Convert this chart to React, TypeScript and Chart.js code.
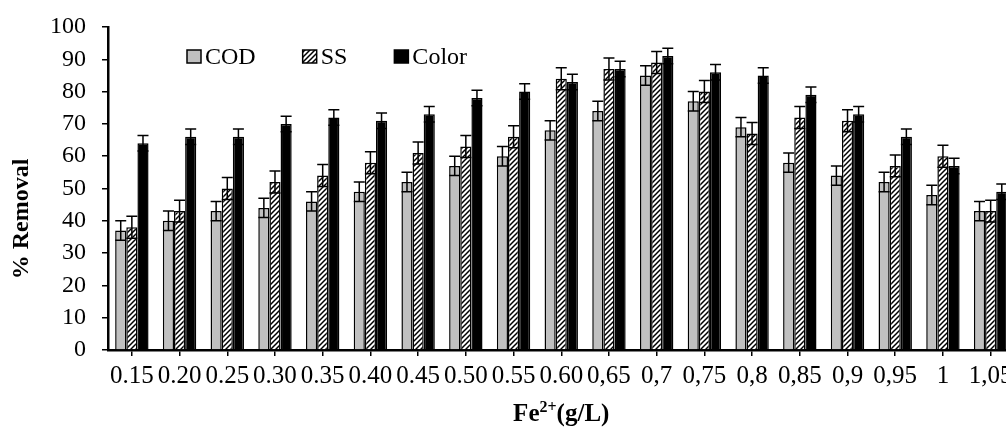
import React, { useEffect, useRef } from "react";
import { Chart, registerables } from "chart.js";

Chart.register(...registerables);

const categories = ["0.15", "0.20", "0.25", "0.30", "0.35", "0.40", "0.45", "0.50", "0.55", "0.60", "0,65", "0,7", "0,75", "0,8", "0,85", "0,9", "0,95", "1", "1,05"];
const codValues = [37, 40, 43, 44, 46, 49, 52, 57, 60, 68, 74, 85, 77, 69, 58, 54, 52, 48, 43];
const ssValues = [38, 43, 50, 52, 54, 58, 61, 63, 66, 84, 87, 89, 80, 67, 72, 71, 57, 60, 43];
const colorValues = [64, 66, 66, 70, 72, 71, 73, 78, 80, 83, 87, 91, 86, 85, 79, 73, 66, 57, 49];
const codErrors = [3, 3, 3, 3, 3, 3, 3, 3, 3, 3, 3, 3, 3, 3, 3, 3, 3, 3, 3];
const ssErrors = [3.4, 3.4, 3.4, 3.4, 3.4, 3.4, 3.4, 3.4, 3.4, 3.4, 3.4, 3.4, 3.4, 3.4, 3.4, 3.4, 3.4, 3.4, 3.4];
const colorErrors = [2.4, 2.4, 2.4, 2.4, 2.4, 2.4, 2.4, 2.4, 2.4, 2.4, 2.4, 2.4, 2.4, 2.4, 2.4, 2.4, 2.4, 2.4, 2.4];
const seriesNames = ["COD", "SS", "Color"];
const yAxisTitle = "% Removal";
const xAxisTitleMain = "Fe";
const xAxisTitleSup = "2+";
const xAxisTitleUnit = "(g/L)";

const SERIF = "'Liberation Serif', 'Times New Roman', serif";
const CANVAS_W = 1040;
const CANVAS_H = 428;

function makeHatch(): CanvasPattern | string {
  const c = document.createElement("canvas");
  c.width = 5;
  c.height = 5;
  const g = c.getContext("2d");
  if (!g) return "#888";
  g.fillStyle = "#fff";
  g.fillRect(0, 0, 5, 5);
  g.strokeStyle = "#000";
  g.lineWidth = 1.5;
  g.beginPath();
  g.moveTo(-1, 6);
  g.lineTo(6, -1);
  g.moveTo(-1, 1);
  g.lineTo(1, -1);
  g.moveTo(4, 6);
  g.lineTo(6, 4);
  g.stroke();
  const p = g.createPattern(c, "repeat");
  return p || "#888";
}

const errorSets = [codErrors, ssErrors, colorErrors];

const errorBarPlugin = {
  id: "errorBars",
  afterDatasetsDraw(chart: any) {
    const ctx = chart.ctx;
    const y = chart.scales.y;
    chart.data.datasets.forEach((ds: any, i: number) => {
      const meta = chart.getDatasetMeta(i);
      const errs = errorSets[i];
      meta.data.forEach((bar: any, j: number) => {
        const v = ds.data[j];
        const e = errs[j];
        const x = bar.x;
        const yt = y.getPixelForValue(v + e);
        const yb = y.getPixelForValue(v - e);
        ctx.save();
        ctx.strokeStyle = "#000";
        ctx.lineWidth = 1.5;
        ctx.beginPath();
        ctx.moveTo(x, yt);
        ctx.lineTo(x, yb);
        ctx.moveTo(x - 5.5, yt);
        ctx.lineTo(x + 5.5, yt);
        ctx.moveTo(x - 5.5, yb);
        ctx.lineTo(x + 5.5, yb);
        ctx.stroke();
        ctx.restore();
      });
    });
  },
};

const annotationPlugin = {
  id: "customLegendTitles",
  afterDraw(chart: any) {
    const ctx = chart.ctx;
    const area = chart.chartArea;
    ctx.save();
    // legend
    ctx.font = `24px ${SERIF}`;
    ctx.textBaseline = "alphabetic";
    ctx.textAlign = "left";
    let x = area.left + 79;
    const boxTop = 50;
    chart.data.datasets.forEach((ds: any) => {
      ctx.fillStyle = ds.backgroundColor;
      ctx.fillRect(x, boxTop, 14, 13);
      ctx.strokeStyle = "#000";
      ctx.lineWidth = 1.5;
      ctx.strokeRect(x, boxTop, 14, 13);
      ctx.fillStyle = "#000";
      ctx.fillText(ds.label, x + 18, 63.5);
      const w = ctx.measureText(ds.label).width;
      x = x + 18 + w + 47;
    });
    // y title
    ctx.save();
    ctx.translate(28, 219);
    ctx.rotate(-Math.PI / 2);
    ctx.font = `bold 24px ${SERIF}`;
    ctx.textAlign = "center";
    ctx.fillStyle = "#000";
    ctx.fillText(yAxisTitle, 0, 0);
    ctx.restore();
    // x title with superscript
    const big = `bold 25px ${SERIF}`;
    const small = `bold 16px ${SERIF}`;
    ctx.font = big;
    const w1 = ctx.measureText(xAxisTitleMain).width;
    const w3 = ctx.measureText(xAxisTitleUnit).width;
    ctx.font = small;
    const w2 = ctx.measureText(xAxisTitleSup).width;
    const total = w1 + w2 + w3;
    let tx = (area.left + area.right) / 2 - total / 2;
    const base = 421;
    ctx.fillStyle = "#000";
    ctx.textAlign = "left";
    ctx.font = big;
    ctx.fillText(xAxisTitleMain, tx, base);
    tx += w1;
    ctx.font = small;
    ctx.fillText(xAxisTitleSup, tx, base - 9);
    tx += w2;
    ctx.font = big;
    ctx.fillText(xAxisTitleUnit, tx, base);
    ctx.restore();
  },
};

export default function App() {
  const ref = useRef<HTMLCanvasElement | null>(null);

  useEffect(() => {
    if (!ref.current) return;
    const hatch = makeHatch();
    const chart = new Chart(ref.current, {
      type: "bar",
      data: {
        labels: categories,
        datasets: [
          { label: seriesNames[0], data: codValues, backgroundColor: "#c0c0c0", borderColor: "#000", borderWidth: 1.5 },
          { label: seriesNames[1], data: ssValues, backgroundColor: hatch as any, borderColor: "#000", borderWidth: 1.5 },
          { label: seriesNames[2], data: colorValues, backgroundColor: "#000", borderColor: "#000", borderWidth: 1.5 },
        ],
      },
      options: {
        animation: false,
        responsive: false,
        maintainAspectRatio: false,
        layout: { padding: { left: 0, top: 27, right: CANVAS_W - 1014.5, bottom: 0 } },
        plugins: {
          legend: { display: false },
          tooltip: { enabled: false },
        },
        datasets: { bar: { categoryPercentage: 0.7, barPercentage: 1.0 } },
        scales: {
          x: {
            offset: true,
            grid: { display: true, offset: false, drawOnChartArea: false, drawTicks: true, tickLength: 6, color: "#000", lineWidth: 1.5 },
            border: { display: true, color: "#000", width: 2.5 },
            ticks: { autoSkip: false, maxRotation: 0, minRotation: 0, color: "#000", font: { family: SERIF, size: 25 }, padding: 5 },
            afterFit: (s: any) => { s.height = 78; s.paddingLeft = 0; s.paddingRight = 0; },
          },
          y: {
            min: 0,
            max: 100,
            ticks: { stepSize: 10, color: "#000", font: { family: SERIF, size: 24 }, padding: 16 },
            grid: { display: true, drawOnChartArea: false, drawTicks: true, tickLength: 6, color: "#000", lineWidth: 1.5 },
            border: { display: true, color: "#000", width: 2.5 },
            afterFit: (s: any) => { s.width = 108; s.paddingTop = 0; s.paddingBottom = 0; },
          },
        },
      },
      plugins: [errorBarPlugin, annotationPlugin],
    });
    return () => chart.destroy();
  }, []);

  return (
    <div style={{ position: "absolute", left: 0, top: 0, width: 1006, height: CANVAS_H, overflow: "hidden", background: "#fff" }}>
      <canvas ref={ref} width={CANVAS_W} height={CANVAS_H} style={{ display: "block" }} />
    </div>
  );
}
